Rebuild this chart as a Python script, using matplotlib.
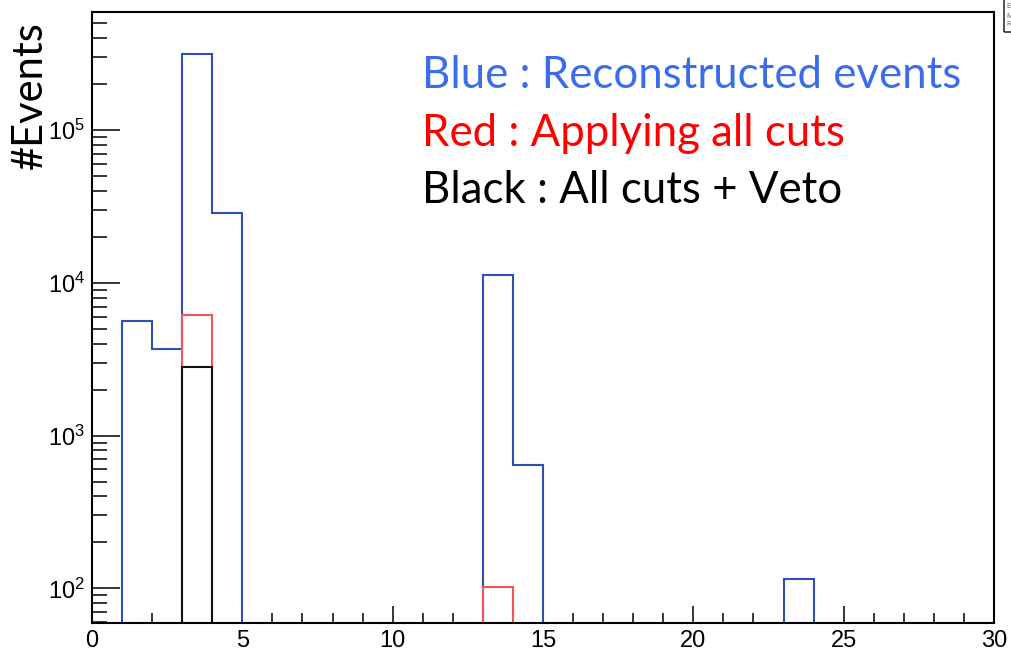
import numpy as np
import matplotlib
matplotlib.use("Agg")
import matplotlib.pyplot as plt
from matplotlib.ticker import FixedLocator, LogLocator, MultipleLocator, NullFormatter, FuncFormatter
from matplotlib.patches import Rectangle

plt.rcParams['font.family'] = ['Liberation Sans', 'DejaVu Sans']
plt.rcParams['mathtext.fontset'] = 'custom'
plt.rcParams['mathtext.rm'] = 'Liberation Sans'

# 30 unit-width bins from 0 to 30
edges = np.arange(0, 31)
reconstructed = [0, 5600, 3700, 316000, 28500, 0, 0, 0, 0, 0,
                 0, 0, 0, 11200, 640, 0, 0, 0, 0, 0,
                 0, 0, 0, 116, 0, 0, 0, 0, 0, 0]
all_cuts = [0, 0, 0, 6150, 0, 0, 0, 0, 0, 0,
            0, 0, 0, 102, 0, 0, 0, 0, 0, 0,
            0, 0, 0, 0, 0, 0, 0, 0, 0, 0]
cuts_veto = [0, 0, 0, 2830, 0, 0, 0, 0, 0, 0,
             0, 0, 0, 0, 0, 0, 0, 0, 0, 0,
             0, 0, 0, 0, 0, 0, 0, 0, 0, 0]
legend_lines = ["Blue : Reconstructed events", "Red : Applying all cuts", "Black : All cuts + Veto"]
legend_colors = ["#3b6cf0", "#ff0000", "#000000"]

ymin, ymax = 59.3, 5.93e5

fig = plt.figure(figsize=(10.11, 6.53), dpi=100)
ax = fig.add_axes([0.0910, 0.0459, 0.8922, 0.9357])

# empty bins sit below the visible range so only the outlines show
floor = ymin * 0.3
for counts, col in [(reconstructed, "#2d4fb8"), (all_cuts, "#f25555"), (cuts_veto, "#111111")]:
    v = np.asarray(counts, dtype=float)
    ax.stairs(np.where(v > 0, v, floor), edges, baseline=None, color=col, lw=1.5, zorder=2)

ax.set_yscale('log')
ax.set_xlim(0, 30)
ax.set_ylim(ymin, ymax)

ax.xaxis.set_major_locator(MultipleLocator(5))
ax.xaxis.set_minor_locator(MultipleLocator(1))
ax.yaxis.set_major_locator(FixedLocator([1e2, 1e3, 1e4, 1e5]))
ax.yaxis.set_minor_locator(LogLocator(base=10, subs=np.arange(2, 10)))
ax.yaxis.set_minor_formatter(NullFormatter())
ax.yaxis.set_major_formatter(FuncFormatter(lambda y, p: r'$\mathregular{10^{%d}}$' % round(np.log10(y))))
ax.xaxis.set_major_formatter(FuncFormatter(lambda x, p: '%d' % x))

ax.tick_params(axis='both', which='both', direction='in', width=1.1, labelsize=17, top=False, right=False)
ax.tick_params(axis='y', which='major', length=20, pad=5)
ax.tick_params(axis='y', which='minor', length=10.8)
ax.tick_params(axis='x', which='major', length=12.2, pad=5)
ax.tick_params(axis='x', which='minor', length=7.2)
for s in ax.spines.values():
    s.set_linewidth(1.5)
    s.set_zorder(5)

fig.text(0.030, 0.855, "#Events", rotation=90, family='Lato', fontsize=30,
         ha='center', va='center')

for i, (txt, col) in enumerate(zip(legend_lines, legend_colors)):
    fig.text(422 / 1011, 1 - (88 + 57.5 * i) / 653, txt, color=col, family='Lato',
             fontsize=31.5, ha='left', va='baseline')

# corner of the stats box cut off at the right edge
fig.patches.append(Rectangle((1004 / 1011, 1 - 32 / 653), 0.05, 0.06,
                             transform=fig.transFigure, fill=False, ec='#333333', lw=1.2))
for j, s in enumerate(["Entries", "Mean", "RMS"]):
    fig.text(1006 / 1011, 1 - (7 + 9 * j) / 653, s, fontsize=5, color='#666666', va='center')

fig.savefig("out.png", dpi=100)
